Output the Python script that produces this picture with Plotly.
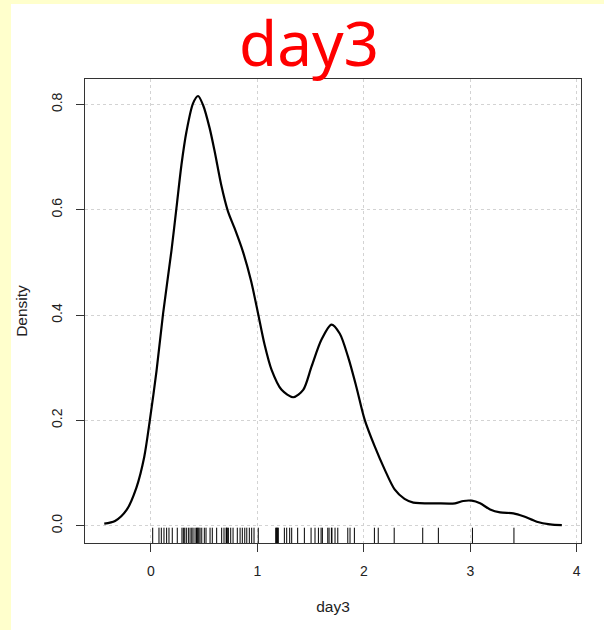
import plotly.graph_objects as go

# ---- data ----
density_x = [-0.439, -0.338, -0.229, -0.136, -0.064, -0.011, 0.052, 0.113, 0.192, 0.239,
             0.286, 0.333, 0.395, 0.442, 0.489, 0.551, 0.598, 0.660, 0.723, 0.785,
             0.863, 0.940, 1.004, 1.066, 1.133, 1.227, 1.336, 1.430, 1.508, 1.601,
             1.695, 1.773, 1.851, 1.929, 2.008, 2.101, 2.195, 2.289, 2.382, 2.465,
             2.685, 2.857, 2.935, 3.014, 3.092, 3.186, 3.280, 3.405, 3.499, 3.625,
             3.750, 3.860]
density_y = [0.004, 0.009, 0.030, 0.073, 0.130, 0.200, 0.294, 0.402, 0.522, 0.603,
             0.685, 0.748, 0.802, 0.816, 0.799, 0.755, 0.711, 0.647, 0.597, 0.565,
             0.521, 0.465, 0.405, 0.345, 0.296, 0.258, 0.244, 0.258, 0.302, 0.353,
             0.382, 0.365, 0.321, 0.264, 0.201, 0.151, 0.107, 0.069, 0.051, 0.044,
             0.0425, 0.0425, 0.047, 0.0475, 0.0425, 0.031, 0.0254, 0.0235, 0.018, 0.0076,
             0.0027, 0.0013]
rug_x = [0.016, 0.075, 0.097, 0.122, 0.147, 0.169, 0.200, 0.247, 0.291, 0.304, 0.317,
         0.332, 0.351, 0.367, 0.383, 0.395, 0.414, 0.428, 0.435, 0.442, 0.45, 0.461,
         0.477, 0.501, 0.517, 0.555, 0.576, 0.617, 0.664, 0.686, 0.706, 0.710, 0.717,
         0.727, 0.749, 0.771, 0.811, 0.837, 0.858, 0.881, 0.900, 0.924, 0.946, 0.968,
         1.008, 1.172, 1.178, 1.184, 1.190, 1.196, 1.253, 1.275, 1.303, 1.322, 1.378,
         1.441, 1.504, 1.541, 1.573, 1.598, 1.610, 1.661, 1.673, 1.695, 1.700, 1.729,
         1.755, 1.849, 1.870, 1.911, 2.099, 2.135, 2.285, 2.553, 2.700, 3.020, 3.410]
x_ticks = [0, 1, 2, 3, 4]
x_tick_labels = ["0", "1", "2", "3", "4"]
y_ticks = [0.0, 0.2, 0.4, 0.6, 0.8]
y_tick_labels = ["0.0", "0.2", "0.4", "0.6", "0.8"]
title_text = "day3"
x_title = "day3"
y_title = "Density"

# ---- layout constants ----
W, H = 604, 630
L, R, T, B = 85, 23, 79, 87
PW, PH = W - L - R, H - T - B
x_range = [-0.62, 4.04]
y_range = [-0.0328, 0.8483]
rug_frac = 0.033

def px_x(p):
    return (p - L) / PW

def px_y(p):
    return (H - B - p) / PH

rug_lo = y_range[0]
rug_hi = y_range[0] + rug_frac * (y_range[1] - y_range[0])
rx, ry = [], []
for v in rug_x:
    rx += [v, v, None]
    ry += [rug_lo, rug_hi, None]

fig = go.Figure()
fig.add_trace(go.Scatter(x=rx, y=ry, mode="lines",
                         line=dict(color="black", width=1), hoverinfo="skip",
                         showlegend=False))
fig.add_trace(go.Scatter(x=density_x, y=density_y, mode="lines",
                         line=dict(color="black", width=2.2, shape="spline", smoothing=0.8),
                         showlegend=False))

font_main = "Liberation Sans, Arial, sans-serif"
fig.update_layout(
    width=W, height=H,
    margin=dict(l=L, r=R, t=T, b=B),
    paper_bgcolor="white", plot_bgcolor="white",
    showlegend=False,
    font=dict(family=font_main, size=14, color="#222222"),
    xaxis=dict(range=x_range, tickvals=x_ticks, ticktext=x_tick_labels,
               showline=True, mirror=True, linecolor="#333333", linewidth=1,
               ticks="outside", ticklen=8, tickcolor="#333333",
               showgrid=True, gridcolor="#D3D3D3", griddash="dot", gridwidth=1,
               zeroline=False, ticklabelstandoff=7,
               title=dict(text=x_title, standoff=23, font=dict(size=15.5))),
    yaxis=dict(range=y_range, tickvals=y_ticks, ticktext=y_tick_labels,
               showline=True, mirror=True, linecolor="#333333", linewidth=1,
               ticks="outside", ticklen=8, tickcolor="#333333", tickangle=-90,
               showgrid=True, gridcolor="#D3D3D3", griddash="dot", gridwidth=1,
               zeroline=False, ticklabelstandoff=8,
               title=dict(text=y_title, standoff=17, font=dict(size=15.5))),
    shapes=[
        dict(type="rect", xref="paper", yref="paper", layer="below",
             x0=px_x(0), x1=px_x(11), y0=px_y(H), y1=px_y(0),
             fillcolor="#FFFFCC", line=dict(width=0)),
        dict(type="rect", xref="paper", yref="paper", layer="below",
             x0=px_x(0), x1=px_x(W), y0=px_y(4), y1=px_y(0),
             fillcolor="#FFFFCC", line=dict(width=0)),
    ],
    annotations=[
        dict(text=title_text, xref="paper", yref="paper",
             x=px_x(309), y=px_y(42), xanchor="center", yanchor="middle",
             showarrow=False,
             font=dict(family="Noto Sans, sans-serif", size=62, color="#FF0000")),
    ],
)

fig.write_html("out.html")
